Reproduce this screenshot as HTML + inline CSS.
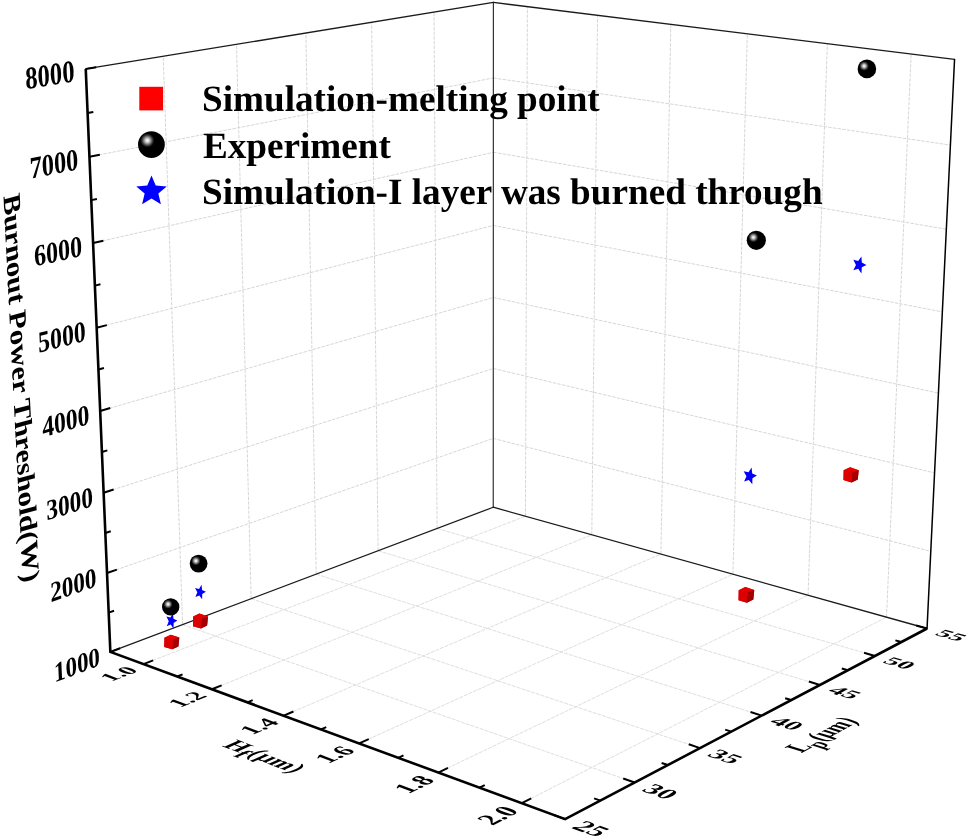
<!DOCTYPE html>
<html><head><meta charset="utf-8"><style>html,body{margin:0;padding:0;background:#fff;width:968px;height:840px;overflow:hidden}svg{display:block} text{text-rendering:geometricPrecision}</style></head>
<body><div style="will-change:transform;width:968px;height:840px"><svg width="968" height="840" viewBox="0 0 968 840"><defs><radialGradient id="hl" cx="0.5" cy="0.5" r="0.5">
<stop offset="0" stop-color="#ffffff"/><stop offset="0.18" stop-color="#e6e6e6"/><stop offset="0.45" stop-color="#9a9a9a"/><stop offset="0.75" stop-color="#3a3a3a"/><stop offset="1" stop-color="#000"/></radialGradient></defs><g fill="none"><line x1="107.02" y1="573.03" x2="493.27" y2="438.38" stroke="#d6d6d6" stroke-width="1.0" stroke-dasharray="3.5 1.2"/><line x1="493.27" y1="438.38" x2="930.78" y2="551.37" stroke="#d6d6d6" stroke-width="1.0" stroke-dasharray="3.5 1.2"/><line x1="103.63" y1="492.72" x2="493.29" y2="368.48" stroke="#d6d6d6" stroke-width="1.0" stroke-dasharray="3.5 1.2"/><line x1="493.29" y1="368.48" x2="934.57" y2="472.91" stroke="#d6d6d6" stroke-width="1.0" stroke-dasharray="3.5 1.2"/><line x1="100.18" y1="410.98" x2="493.31" y2="297.51" stroke="#d6d6d6" stroke-width="1.0" stroke-dasharray="3.5 1.2"/><line x1="493.31" y1="297.51" x2="938.42" y2="393.09" stroke="#d6d6d6" stroke-width="1.0" stroke-dasharray="3.5 1.2"/><line x1="96.67" y1="327.77" x2="493.33" y2="225.45" stroke="#d6d6d6" stroke-width="1.0" stroke-dasharray="3.5 1.2"/><line x1="493.33" y1="225.45" x2="942.35" y2="311.87" stroke="#d6d6d6" stroke-width="1.0" stroke-dasharray="3.5 1.2"/><line x1="93.09" y1="243.05" x2="493.35" y2="152.27" stroke="#d6d6d6" stroke-width="1.0" stroke-dasharray="3.5 1.2"/><line x1="493.35" y1="152.27" x2="946.34" y2="229.22" stroke="#d6d6d6" stroke-width="1.0" stroke-dasharray="3.5 1.2"/><line x1="89.45" y1="156.78" x2="493.38" y2="77.95" stroke="#d6d6d6" stroke-width="1.0" stroke-dasharray="3.5 1.2"/><line x1="493.38" y1="77.95" x2="950.41" y2="145.09" stroke="#d6d6d6" stroke-width="1.0" stroke-dasharray="3.5 1.2"/><line x1="182.60" y1="624.64" x2="163.24" y2="56.28" stroke="#d6d6d6" stroke-width="1.0" stroke-dasharray="3.5 1.2"/><line x1="182.60" y1="624.64" x2="634.65" y2="782.54" stroke="#dadada" stroke-width="0.9" stroke-dasharray="4 1"/><line x1="251.14" y1="598.74" x2="236.49" y2="44.33" stroke="#d6d6d6" stroke-width="1.0" stroke-dasharray="3.5 1.2"/><line x1="251.14" y1="598.74" x2="700.06" y2="748.08" stroke="#dadada" stroke-width="0.9" stroke-dasharray="4 1"/><line x1="316.23" y1="574.14" x2="305.85" y2="33.03" stroke="#d6d6d6" stroke-width="1.0" stroke-dasharray="3.5 1.2"/><line x1="316.23" y1="574.14" x2="761.71" y2="715.60" stroke="#dadada" stroke-width="0.9" stroke-dasharray="4 1"/><line x1="378.13" y1="550.75" x2="371.61" y2="22.31" stroke="#d6d6d6" stroke-width="1.0" stroke-dasharray="3.5 1.2"/><line x1="378.13" y1="550.75" x2="819.91" y2="684.94" stroke="#dadada" stroke-width="0.9" stroke-dasharray="4 1"/><line x1="437.06" y1="528.47" x2="434.04" y2="12.13" stroke="#d6d6d6" stroke-width="1.0" stroke-dasharray="3.5 1.2"/><line x1="437.06" y1="528.47" x2="874.94" y2="655.95" stroke="#dadada" stroke-width="0.9" stroke-dasharray="4 1"/><line x1="525.44" y1="516.24" x2="527.39" y2="6.66" stroke="#d6d6d6" stroke-width="1.0" stroke-dasharray="3.5 1.2"/><line x1="143.41" y1="664.10" x2="525.44" y2="516.24" stroke="#dadada" stroke-width="0.9" stroke-dasharray="4 1"/><line x1="591.80" y1="534.79" x2="597.56" y2="15.33" stroke="#d6d6d6" stroke-width="1.0" stroke-dasharray="3.5 1.2"/><line x1="211.91" y1="689.29" x2="591.80" y2="534.79" stroke="#dadada" stroke-width="0.9" stroke-dasharray="4 1"/><line x1="660.90" y1="554.10" x2="670.80" y2="24.38" stroke="#d6d6d6" stroke-width="1.0" stroke-dasharray="3.5 1.2"/><line x1="283.72" y1="715.69" x2="660.90" y2="554.10" stroke="#dadada" stroke-width="0.9" stroke-dasharray="4 1"/><line x1="732.92" y1="574.23" x2="747.33" y2="33.84" stroke="#d6d6d6" stroke-width="1.0" stroke-dasharray="3.5 1.2"/><line x1="359.12" y1="743.42" x2="732.92" y2="574.23" stroke="#dadada" stroke-width="0.9" stroke-dasharray="4 1"/><line x1="808.05" y1="595.23" x2="827.36" y2="43.73" stroke="#d6d6d6" stroke-width="1.0" stroke-dasharray="3.5 1.2"/><line x1="438.36" y1="772.56" x2="808.05" y2="595.23" stroke="#dadada" stroke-width="0.9" stroke-dasharray="4 1"/><line x1="886.51" y1="617.16" x2="911.16" y2="54.08" stroke="#d6d6d6" stroke-width="1.0" stroke-dasharray="3.5 1.2"/><line x1="521.76" y1="803.22" x2="886.51" y2="617.16" stroke="#dadada" stroke-width="0.9" stroke-dasharray="4 1"/></g>
<g stroke-linecap="round"><line x1="493.25" y1="507.24" x2="493.40" y2="2.45" stroke="#333" stroke-width="1.2"/><line x1="85.74" y1="68.91" x2="493.40" y2="2.45" stroke="#1a1a1a" stroke-width="1.3"/><line x1="493.40" y1="2.45" x2="954.54" y2="59.45" stroke="#1a1a1a" stroke-width="1.3"/><line x1="927.05" y1="628.50" x2="954.54" y2="59.45" stroke="#000" stroke-width="1.5"/><line x1="110.35" y1="651.94" x2="493.25" y2="507.24" stroke="#1a1a1a" stroke-width="1.25"/><line x1="493.25" y1="507.24" x2="927.05" y2="628.50" stroke="#1a1a1a" stroke-width="1.3"/></g>
<g stroke-linecap="butt"><polyline points="85.74,68.91 110.35,651.94 565.12,819.17 927.05,628.50" fill="none" stroke="#000" stroke-width="2.6" stroke-linejoin="miter" stroke-miterlimit="10"/><line x1="110.35" y1="651.94" x2="120.11" y2="648.25" stroke="#000" stroke-width="2.0"/><line x1="108.69" y1="612.66" x2="114.05" y2="610.71" stroke="#000" stroke-width="2.0"/><line x1="107.02" y1="573.03" x2="116.88" y2="569.59" stroke="#000" stroke-width="2.0"/><line x1="105.33" y1="533.05" x2="110.74" y2="531.24" stroke="#000" stroke-width="2.0"/><line x1="103.63" y1="492.72" x2="113.59" y2="489.54" stroke="#000" stroke-width="2.0"/><line x1="101.91" y1="452.03" x2="107.38" y2="450.37" stroke="#000" stroke-width="2.0"/><line x1="100.18" y1="410.98" x2="110.24" y2="408.08" stroke="#000" stroke-width="2.0"/><line x1="98.43" y1="369.56" x2="103.95" y2="368.05" stroke="#000" stroke-width="2.0"/><line x1="96.67" y1="327.77" x2="106.83" y2="325.15" stroke="#000" stroke-width="2.0"/><line x1="94.89" y1="285.60" x2="100.47" y2="284.25" stroke="#000" stroke-width="2.0"/><line x1="93.09" y1="243.05" x2="103.36" y2="240.72" stroke="#000" stroke-width="2.0"/><line x1="91.28" y1="200.11" x2="96.92" y2="198.92" stroke="#000" stroke-width="2.0"/><line x1="89.45" y1="156.78" x2="99.83" y2="154.75" stroke="#000" stroke-width="2.0"/><line x1="87.61" y1="113.04" x2="93.31" y2="112.02" stroke="#000" stroke-width="2.0"/><line x1="85.74" y1="68.91" x2="96.23" y2="67.20" stroke="#000" stroke-width="2.0"/><line x1="143.41" y1="664.10" x2="153.17" y2="660.33" stroke="#000" stroke-width="2.0"/><line x1="177.26" y1="676.55" x2="182.58" y2="674.43" stroke="#000" stroke-width="2.0"/><line x1="211.91" y1="689.29" x2="221.64" y2="685.33" stroke="#000" stroke-width="2.0"/><line x1="247.38" y1="702.33" x2="252.69" y2="700.12" stroke="#000" stroke-width="2.0"/><line x1="283.72" y1="715.69" x2="293.42" y2="711.54" stroke="#000" stroke-width="2.0"/><line x1="320.96" y1="729.38" x2="326.24" y2="727.06" stroke="#000" stroke-width="2.0"/><line x1="359.12" y1="743.42" x2="368.76" y2="739.05" stroke="#000" stroke-width="2.0"/><line x1="398.24" y1="757.80" x2="403.49" y2="755.36" stroke="#000" stroke-width="2.0"/><line x1="438.36" y1="772.56" x2="447.94" y2="767.96" stroke="#000" stroke-width="2.0"/><line x1="479.52" y1="787.69" x2="484.73" y2="785.12" stroke="#000" stroke-width="2.0"/><line x1="521.76" y1="803.22" x2="531.25" y2="798.38" stroke="#000" stroke-width="2.0"/><line x1="565.12" y1="819.17" x2="553.56" y2="814.92" stroke="#000" stroke-width="2.0"/><line x1="600.43" y1="800.57" x2="594.14" y2="798.32" stroke="#000" stroke-width="2.0"/><line x1="634.65" y1="782.54" x2="623.21" y2="778.54" stroke="#000" stroke-width="2.0"/><line x1="667.85" y1="765.05" x2="661.63" y2="762.93" stroke="#000" stroke-width="2.0"/><line x1="700.06" y1="748.08" x2="688.74" y2="744.31" stroke="#000" stroke-width="2.0"/><line x1="731.34" y1="731.60" x2="725.19" y2="729.60" stroke="#000" stroke-width="2.0"/><line x1="761.71" y1="715.60" x2="750.52" y2="712.05" stroke="#000" stroke-width="2.0"/><line x1="791.22" y1="700.05" x2="785.14" y2="698.17" stroke="#000" stroke-width="2.0"/><line x1="819.91" y1="684.94" x2="808.85" y2="681.58" stroke="#000" stroke-width="2.0"/><line x1="847.80" y1="670.25" x2="841.80" y2="668.46" stroke="#000" stroke-width="2.0"/><line x1="874.94" y1="655.95" x2="864.01" y2="652.77" stroke="#000" stroke-width="2.0"/><line x1="901.34" y1="642.04" x2="895.41" y2="640.35" stroke="#000" stroke-width="2.0"/><line x1="927.05" y1="628.50" x2="916.26" y2="625.48" stroke="#000" stroke-width="2.0"/></g>
<g font-family="Liberation Serif" font-weight="bold" fill="#000"><text transform="matrix(0.22813 -0.08621 0.01272 0.27676 99.80 655.93)" font-size="100" text-anchor="end" y="33.5">1000</text><text transform="matrix(0.23046 -0.08034 0.01295 0.28169 96.37 576.74)" font-size="100" text-anchor="end" y="33.5">2000</text><text transform="matrix(0.23283 -0.07424 0.01318 0.28675 92.87 496.15)" font-size="100" text-anchor="end" y="33.5">3000</text><text transform="matrix(0.23526 -0.06790 0.01342 0.29195 89.32 414.11)" font-size="100" text-anchor="end" y="33.5">4000</text><text transform="matrix(0.23773 -0.06132 0.01366 0.29729 85.70 330.60)" font-size="100" text-anchor="end" y="33.5">5000</text><text transform="matrix(0.24026 -0.05449 0.01392 0.30278 82.01 245.56)" font-size="100" text-anchor="end" y="33.5">6000</text><text transform="matrix(0.24283 -0.04739 0.01418 0.30842 78.25 158.96)" font-size="100" text-anchor="end" y="33.5">7000</text><text transform="matrix(0.24547 -0.04001 0.01444 0.31423 74.43 70.75)" font-size="100" text-anchor="end" y="33.5">8000</text><text transform="matrix(0.22653 -0.08768 0.20081 0.07512 132.76 668.23)" font-size="100" text-anchor="end" y="33.5">1.0</text><text transform="matrix(0.22611 -0.09196 0.21054 0.07876 201.27 693.61)" font-size="100" text-anchor="end" y="33.5">1.2</text><text transform="matrix(0.22538 -0.09656 0.22100 0.08267 273.13 720.23)" font-size="100" text-anchor="end" y="33.5">1.4</text><text transform="matrix(0.22429 -0.10152 0.23225 0.08688 348.58 748.18)" font-size="100" text-anchor="end" y="33.5">1.6</text><text transform="matrix(0.22279 -0.10686 0.24438 0.09142 427.91 777.57)" font-size="100" text-anchor="end" y="33.5">1.8</text><text transform="matrix(0.22081 -0.11264 0.25749 0.09633 511.40 808.51)" font-size="100" text-anchor="end" y="33.5">2.0</text><text transform="matrix(0.26778 0.09846 -0.21438 0.11516 577.77 823.82)" font-size="100" text-anchor="start" y="33.5">25</text><text transform="matrix(0.26493 0.09254 -0.20139 0.10818 647.17 786.91)" font-size="100" text-anchor="start" y="33.5">30</text><text transform="matrix(0.26194 0.08714 -0.18954 0.10182 712.45 752.20)" font-size="100" text-anchor="start" y="33.5">35</text><text transform="matrix(0.25884 0.08219 -0.17871 0.09600 773.95 719.49)" font-size="100" text-anchor="start" y="33.5">40</text><text transform="matrix(0.25568 0.07766 -0.16879 0.09067 832.01 688.62)" font-size="100" text-anchor="start" y="33.5">45</text><text transform="matrix(0.25246 0.07350 -0.15967 0.08577 886.89 659.43)" font-size="100" text-anchor="start" y="33.5">50</text><text transform="matrix(0.24923 0.06966 -0.15126 0.08125 938.85 631.79)" font-size="100" text-anchor="start" y="33.5">55</text></g>
<g font-family="Liberation Serif" font-weight="bold" fill="#000"><text transform="matrix(0.01527 0.30189 -0.24629 0.06708 13.18 390.13)" font-size="100" text-anchor="middle">Burnout Power Threshold(W)</text><text transform="matrix(0.22740 0.08720 -0.23102 0.10189 264.98 756.27)" font-size="100" text-anchor="middle" y="33.0">H<tspan font-size="90" dy="30">f</tspan><tspan dy="-30">(μm)</tspan></text><text transform="matrix(0.17743 -0.09790 0.26393 0.08381 821.40 734.55)" font-size="100" text-anchor="middle" y="33.0">L<tspan font-size="90" dy="30">p</tspan><tspan dy="-30">(μm)</tspan></text></g>
<polygon points="170.75,634.85 179.30,637.61 178.40,646.45 172.25,649.35 164.30,647.03 164.45,637.75" fill="#c80000"/><polygon points="164.45,637.75 173.30,639.35 172.25,649.35 164.30,647.03" fill="#dc0000"/><polygon points="173.30,639.35 179.30,637.61 178.40,646.45 172.25,649.35" fill="#a30000"/><polygon points="170.75,634.85 179.30,637.61 173.30,639.35 164.45,637.75" fill="#e60000"/><polygon points="199.45,613.60 208.00,616.45 207.10,625.60 200.95,628.60 193.00,626.20 193.15,616.60" fill="#c80000"/><polygon points="193.15,616.60 202.00,618.25 200.95,628.60 193.00,626.20" fill="#dc0000"/><polygon points="202.00,618.25 208.00,616.45 207.10,625.60 200.95,628.60" fill="#a30000"/><polygon points="199.45,613.60 208.00,616.45 202.00,618.25 193.15,616.60" fill="#e60000"/><polygon points="850.04,467.30 858.70,470.19 857.79,479.46 851.56,482.50 843.50,480.07 843.65,470.34" fill="#c80000"/><polygon points="843.65,470.34 852.62,472.01 851.56,482.50 843.50,480.07" fill="#dc0000"/><polygon points="852.62,472.01 858.70,470.19 857.79,479.46 851.56,482.50" fill="#a30000"/><polygon points="850.04,467.30 858.70,470.19 852.62,472.01 843.65,470.34" fill="#e60000"/><polygon points="745.30,587.05 754.25,590.03 753.31,599.61 746.87,602.75 738.55,600.24 738.71,590.19" fill="#c80000"/><polygon points="738.71,590.19 747.97,591.92 746.87,602.75 738.55,600.24" fill="#dc0000"/><polygon points="747.97,591.92 754.25,590.03 753.31,599.61 746.87,602.75" fill="#a30000"/><polygon points="745.30,587.05 754.25,590.03 747.97,591.92 738.71,590.19" fill="#e60000"/><polygon points="172.93,612.99 173.47,618.65 177.31,620.57 173.63,623.03 173.52,628.74 170.71,624.60 166.80,626.22 168.74,621.20 166.44,616.49 170.45,617.52" fill="#0000ff"/><polygon points="201.53,584.76 202.07,589.95 205.92,591.70 202.24,593.96 202.12,599.20 199.31,595.40 195.39,596.88 197.34,592.28 195.03,587.96 199.04,588.91" fill="#0000ff"/><polygon points="751.57,467.38 752.23,473.47 756.92,475.53 752.43,478.19 752.29,484.33 748.86,479.88 744.09,481.62 746.45,476.21 743.64,471.14 748.53,472.25" fill="#0000ff"/><polygon points="861.43,256.41 861.83,262.54 866.43,264.90 861.83,267.26 861.43,273.39 858.20,268.72 853.35,270.15 855.95,264.90 853.35,259.65 858.20,261.08" fill="#0000ff"/><circle cx="170.7" cy="606.9" r="8.7" fill="#000"/><circle cx="168.09" cy="604.20" r="4.52" fill="url(#hl)"/><circle cx="198.6" cy="563.6" r="8.9" fill="#000"/><circle cx="195.93" cy="560.84" r="4.63" fill="url(#hl)"/><circle cx="756.3" cy="240.3" r="9.6" fill="#000"/><circle cx="753.42" cy="237.32" r="4.99" fill="url(#hl)"/><circle cx="866.9" cy="68.9" r="9.3" fill="#000"/><circle cx="864.11" cy="66.02" r="4.84" fill="url(#hl)"/>
<rect x="139.3" y="86.8" width="23.8" height="23.6" fill="#ff0000"/><circle cx="151.4" cy="144.6" r="13.4" fill="#000"/><circle cx="147.38" cy="140.45" r="6.97" fill="url(#hl)"/><polygon points="151.50,175.40 155.73,185.58 166.72,186.46 158.35,193.62 160.90,204.34 151.50,198.60 142.10,204.34 144.65,193.62 136.28,186.46 147.27,185.58" fill="#0000ff"/><g font-family="Liberation Serif" font-weight="bold" font-size="37.2" fill="#000"><text x="202.0" y="111.4">Simulation-melting point</text><text x="202.9" y="157.8">Experiment</text><text x="202.0" y="203.8">Simulation-I layer was burned through</text></g></svg></div></body></html>
